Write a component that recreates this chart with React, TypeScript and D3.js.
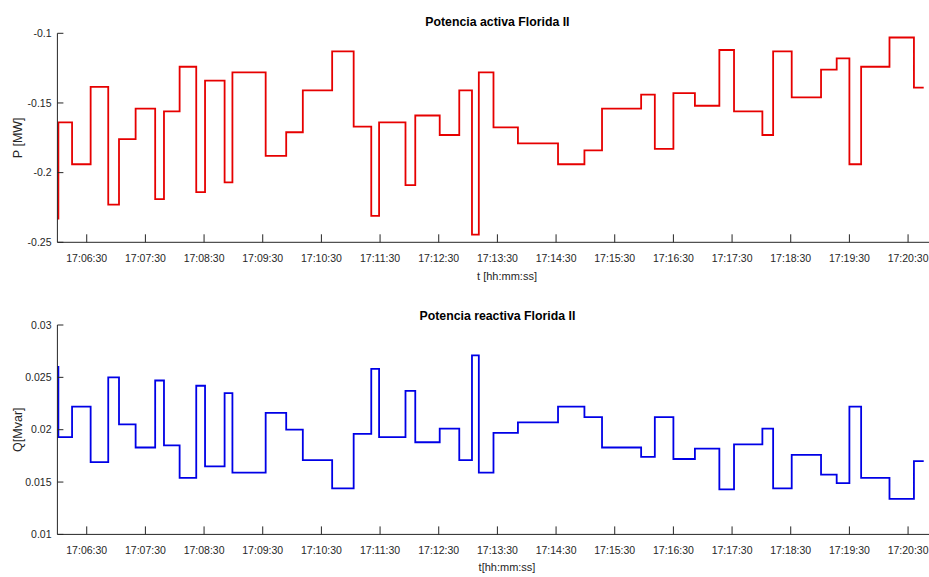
import React from "react";
import * as d3 from "d3";

// Sample times where the value changes (step data)
const times = [
  "17:06:00", "17:06:01", "17:06:15", "17:06:34", "17:06:52", "17:07:03", "17:07:20",
  "17:07:40", "17:07:49", "17:08:05", "17:08:22", "17:08:31", "17:08:51", "17:08:59",
  "17:09:33", "17:09:54", "17:10:11", "17:10:41", "17:11:03", "17:11:21", "17:11:29",
  "17:11:56", "17:12:06", "17:12:31", "17:12:51", "17:13:04", "17:13:11", "17:13:26",
  "17:13:51", "17:14:32", "17:14:59", "17:15:17", "17:15:57", "17:16:11", "17:16:30",
  "17:16:52", "17:17:17", "17:17:32", "17:18:01", "17:18:12", "17:18:31", "17:19:01",
  "17:19:17", "17:19:30", "17:19:42", "17:20:11", "17:20:36",
];
const endTime = "17:20:46";

const activePower = [
  -0.233, -0.164, -0.194, -0.1385, -0.223, -0.176, -0.154, -0.219, -0.156, -0.124,
  -0.214, -0.134, -0.207, -0.128, -0.188, -0.171, -0.141, -0.113, -0.167, -0.231,
  -0.164, -0.209, -0.159, -0.173, -0.141, -0.2445, -0.128, -0.1675, -0.179, -0.194,
  -0.184, -0.154, -0.144, -0.183, -0.143, -0.152, -0.112, -0.156, -0.173, -0.113,
  -0.146, -0.126, -0.118, -0.194, -0.124, -0.103, -0.139,
];

const reactivePower = [
  0.026, 0.0193, 0.0222, 0.0169, 0.025, 0.0205, 0.0183, 0.0247, 0.0185, 0.0154,
  0.0242, 0.0165, 0.0235, 0.0159, 0.0216, 0.02, 0.0171, 0.0144, 0.0196, 0.0258,
  0.0193, 0.0237, 0.0188, 0.0201, 0.0171, 0.0271, 0.0159, 0.0197, 0.0207, 0.0222,
  0.0212, 0.0183, 0.0174, 0.0212, 0.0172, 0.0182, 0.0143, 0.0186, 0.0201, 0.0144,
  0.0176, 0.0157, 0.0149, 0.0222, 0.0154, 0.0134, 0.017,
];

const xTickLabels = [
  "17:06:30", "17:07:30", "17:08:30", "17:09:30", "17:10:30", "17:11:30", "17:12:30",
  "17:13:30", "17:14:30", "17:15:30", "17:16:30", "17:17:30", "17:18:30", "17:19:30",
  "17:20:30",
];
const pTicks = [-0.25, -0.2, -0.15, -0.1];
const qTicks = [0.01, 0.015, 0.02, 0.025, 0.03];

const parse = d3.timeParse("%H:%M:%S");
const xDomain = [parse("17:06:00")!, parse("17:21:00")!];

const AXIS = "#262626";
const FONT = "'Liberation Sans', Arial, sans-serif";

type PanelProps = {
  title: string;
  xLabel: string;
  yLabel: string;
  values: number[];
  yDomain: [number, number];
  yTicks: number[];
  color: string;
  yRange: [number, number];
  titleY: number;
  tickLabelY: number;
  xLabelY: number;
  yLabelFont: number;
};

function Panel(p: PanelProps) {
  const x = d3.scaleTime().domain(xDomain).range([57.4, 937.4]);
  const y = d3.scaleLinear().domain(p.yDomain).range(p.yRange);
  const data: [Date, number][] = times.map((t, i) => [parse(t)!, p.values[i]]);
  data.push([parse(endTime)!, p.values[p.values.length - 1]]);
  const line = d3
    .line<[Date, number]>()
    .x((d) => x(d[0]))
    .y((d) => y(d[1]))
    .curve(d3.curveStepAfter);
  const x0 = x.range()[0];
  const yBottom = p.yRange[0];
  const yTop = p.yRange[1];
  const midY = (yBottom + yTop) / 2;
  const midX = (x.range()[0] + x.range()[1]) / 2;
  return (
    <g>
      <path d={line(data) || ""} fill="none" stroke={p.color} strokeWidth={1.8} strokeLinejoin="miter" />
      <line x1={x0} x2={929} y1={yBottom} y2={yBottom} stroke={AXIS} strokeWidth={1} />
      <line x1={x0} x2={x0} y1={yTop} y2={yBottom} stroke={AXIS} strokeWidth={1} />
      {xTickLabels.map((s) => {
        const xx = x(parse(s)!);
        return (
          <g key={s}>
            <line x1={xx} x2={xx} y1={yBottom} y2={yBottom - 8} stroke={AXIS} strokeWidth={1} />
            <text x={xx} y={p.tickLabelY} textAnchor="middle" fontSize={10.5} fill={AXIS} fontFamily={FONT}>
              {s}
            </text>
          </g>
        );
      })}
      {p.yTicks.map((v) => {
        const yy = y(v);
        return (
          <g key={v}>
            <line x1={x0} x2={x0 + 6} y1={yy} y2={yy} stroke={AXIS} strokeWidth={1} />
            <text x={51.5} y={yy} dy="0.35em" textAnchor="end" fontSize={10.5} fill={AXIS} fontFamily={FONT}>
              {String(v)}
            </text>
          </g>
        );
      })}
      <text x={midX} y={p.titleY} textAnchor="middle" fontSize={12.3} fontWeight="bold" fill="#000" fontFamily={FONT}>
        {p.title}
      </text>
      <text x={507} y={p.xLabelY} textAnchor="middle" fontSize={11} fill={AXIS} fontFamily={FONT}>
        {p.xLabel}
      </text>
      <text
        transform={`translate(${21.5},${midY}) rotate(-90)`}
        textAnchor="middle"
        fontSize={p.yLabelFont}
        fill={AXIS}
        fontFamily={FONT}
      >
        {p.yLabel}
      </text>
    </g>
  );
}

export default function App() {
  return (
    <svg
      width={929}
      height={577}
      style={{ position: "absolute", left: 0, top: 0, background: "#fff" }}
    >
      <rect x={0} y={0} width={929} height={577} fill="#fff" />
      <Panel
        title="Potencia activa Florida II"
        xLabel="t [hh:mm:ss]"
        yLabel="P [MW]"
        values={activePower}
        yDomain={[-0.25, -0.1]}
        yTicks={pTicks}
        color="#e60000"
        yRange={[242.3, 33.3]}
        titleY={26}
        tickLabelY={261.5}
        xLabelY={279.5}
        yLabelFont={12.5}
      />
      <Panel
        title="Potencia reactiva Florida II"
        xLabel="t[hh:mm:ss]"
        yLabel="Q[Mvar]"
        values={reactivePower}
        yDomain={[0.01, 0.03]}
        yTicks={qTicks}
        color="#0000e6"
        yRange={[534.4, 325]}
        titleY={320}
        tickLabelY={553.5}
        xLabelY={571}
        yLabelFont={12.5}
      />
    </svg>
  );
}
